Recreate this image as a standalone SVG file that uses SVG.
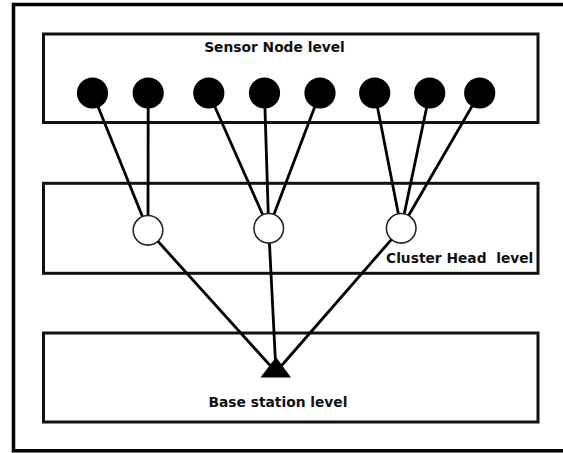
<svg xmlns="http://www.w3.org/2000/svg" width="563" height="453" viewBox="0 0 563 453">
<style>
.frame{fill:none;stroke:#000;stroke-width:3.5}
.level{fill:none;stroke:#111;stroke-width:3}
.sensor{fill:#000;stroke:none}
.ch{fill:#fff;stroke:#222;stroke-width:1.6}
.link{stroke:#000;stroke-width:2.8;fill:none}
.lbl{font-family:"DejaVu Sans","Verdana",sans-serif;font-weight:bold;font-size:13.8px;fill:#111;white-space:pre}
</style>
<rect x="0" y="0" width="563" height="453" fill="#fff"/>
<rect class="frame" x="13.5" y="4.5" width="560" height="446.3"/>
<g id="level-sensor">
<rect class="level" x="43.5" y="34" width="494.5" height="88.5"/>
<text class="lbl" x="274.5" y="51.7" text-anchor="middle">Sensor Node level</text>
</g>
<g id="level-cluster">
<rect class="level" x="43.5" y="183.3" width="494.5" height="90"/>
<text class="lbl" x="386" y="262.7">Cluster Head  level</text>
</g>
<g id="level-base">
<rect class="level" x="43.5" y="333" width="494.5" height="89"/>
<text class="lbl" x="278" y="406.7" text-anchor="middle" font-size="13.6">Base station level</text>
</g>
<g id="connectors">
<line class="link" x1="92.5" y1="93" x2="148" y2="230.3"/>
<line class="link" x1="148.2" y1="93" x2="148" y2="230.3"/>
<line class="link" x1="208.8" y1="93" x2="268.7" y2="228.3"/>
<line class="link" x1="264.5" y1="93" x2="268.7" y2="228.3"/>
<line class="link" x1="320" y1="93" x2="268.7" y2="228.3"/>
<line class="link" x1="374.7" y1="93" x2="401.2" y2="228.3"/>
<line class="link" x1="429.7" y1="93" x2="401.2" y2="228.3"/>
<line class="link" x1="479.7" y1="93" x2="401.2" y2="228.3"/>
<line class="link" x1="148" y1="230.3" x2="276" y2="372"/>
<line class="link" x1="268.7" y1="228.3" x2="276" y2="372"/>
<line class="link" x1="401.2" y1="228.3" x2="276" y2="372"/>
</g>
<g id="sensor-1"><circle class="sensor" cx="92.5" cy="93" r="15.6"/></g>
<g id="sensor-2"><circle class="sensor" cx="148.2" cy="93" r="15.6"/></g>
<g id="sensor-3"><circle class="sensor" cx="208.8" cy="93" r="15.6"/></g>
<g id="sensor-4"><circle class="sensor" cx="264.5" cy="93" r="15.6"/></g>
<g id="sensor-5"><circle class="sensor" cx="320" cy="93" r="15.6"/></g>
<g id="sensor-6"><circle class="sensor" cx="374.7" cy="93" r="15.6"/></g>
<g id="sensor-7"><circle class="sensor" cx="429.7" cy="93" r="15.6"/></g>
<g id="sensor-8"><circle class="sensor" cx="479.7" cy="93" r="15.6"/></g>
<g id="ch-1"><circle class="ch" cx="148" cy="230.3" r="14.8"/></g>
<g id="ch-2"><circle class="ch" cx="268.7" cy="228.3" r="14.8"/></g>
<g id="ch-3"><circle class="ch" cx="401.2" cy="228.3" r="14.8"/></g>
<g id="base-station"><polygon points="276,357 260.5,377.5 291,377.5" fill="#000"/></g>
</svg>
